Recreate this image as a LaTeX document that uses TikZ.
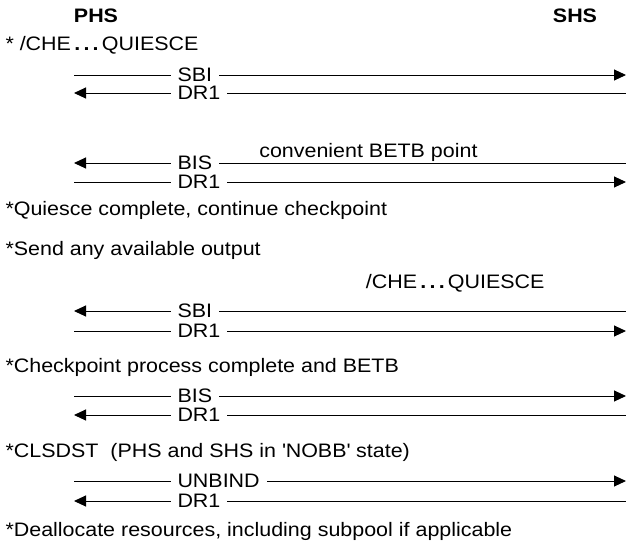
\documentclass[tikz,border=0pt]{standalone}
\usepackage{fontspec}
\setmainfont{Liberation Sans}[FakeStretch=1.1]
\usetikzlibrary{arrows.meta}
\newcommand{\flowfont}{\fontsize{19.5}{23}\selectfont}
\newcommand{\dotdot}{{\bfseries\,.\,.\,.\,}}

\begin{document}
\begin{tikzpicture}[x=1pt,y=-1pt,>={Triangle[length=12pt,width=11pt]},line width=1pt,
  host/.style={font=\flowfont\bfseries,inner sep=0pt,anchor=base},
  note/.style={anchor=base west,font=\flowfont,inner sep=0pt},
  lbl/.style={anchor=west,font=\flowfont,fill=white,inner xsep=7pt,inner ysep=0pt}]
  \useasboundingbox (0,0) rectangle (629,544);
  \node[host] (phs) at (96,22) {PHS};
  \node[host] (shs) at (575,22) {SHS};

  % step notes on the PHS side
  \foreach \n/\y/\txt in {che/50/{* /CHE\dotdot QUIESCE},
      qdone/215/{*Quiesce complete, continue checkpoint},
      send/255/{*Send any available output},
      ckpt/372/{*Checkpoint process complete and BETB},
      clsdst/457/{*CLSDST\ \ (PHS and SHS in \textquotesingle NOBB\textquotesingle\ state)},
      dealloc/536/{*Deallocate resources, including subpool if applicable}}
    \node[note] (\n) at (5,\y) {\txt};
  \node[note,anchor=base east] (betb) at (478,157) {convenient BETB point};
  \node[note,anchor=base east] (sche) at (545,288) {/CHE\dotdot QUIESCE};

  % flow ends
  \foreach \n/\y in {a1/75, a2/93, b1/163, b2/182, c1/311, c2/331,
      d1/396, d2/415, e1/481, e2/501} {
    \coordinate (l\n) at (74,\y);
    \coordinate (r\n) at (626,\y);
  }

  \draw[->] (la1) -- (ra1);
  \draw[<-] (la2) -- (ra2);
  \draw[<-] (lb1) -- (rb1);
  \draw[->] (lb2) -- (rb2);
  \draw[<-] (lc1) -- (rc1);
  \draw[->] (lc2) -- (rc2);
  \draw[->] (ld1) -- (rd1);
  \draw[<-] (ld2) -- (rd2);
  \draw[->] (le1) -- (re1);
  \draw[<-] (le2) -- (re2);

  \node[lbl] (ma1) at (170,75) {SBI};
  \node[lbl] (ma2) at (170,93) {DR1};
  \node[lbl] (mb1) at (170,163) {BIS};
  \node[lbl] (mb2) at (170,182) {DR1};
  \node[lbl] (mc1) at (170,311) {SBI};
  \node[lbl] (mc2) at (170,331) {DR1};
  \node[lbl] (md1) at (170,396) {BIS};
  \node[lbl] (md2) at (170,415) {DR1};
  \node[lbl] (me1) at (170,481) {UNBIND};
  \node[lbl] (me2) at (170,501) {DR1};
\end{tikzpicture}
\end{document}
